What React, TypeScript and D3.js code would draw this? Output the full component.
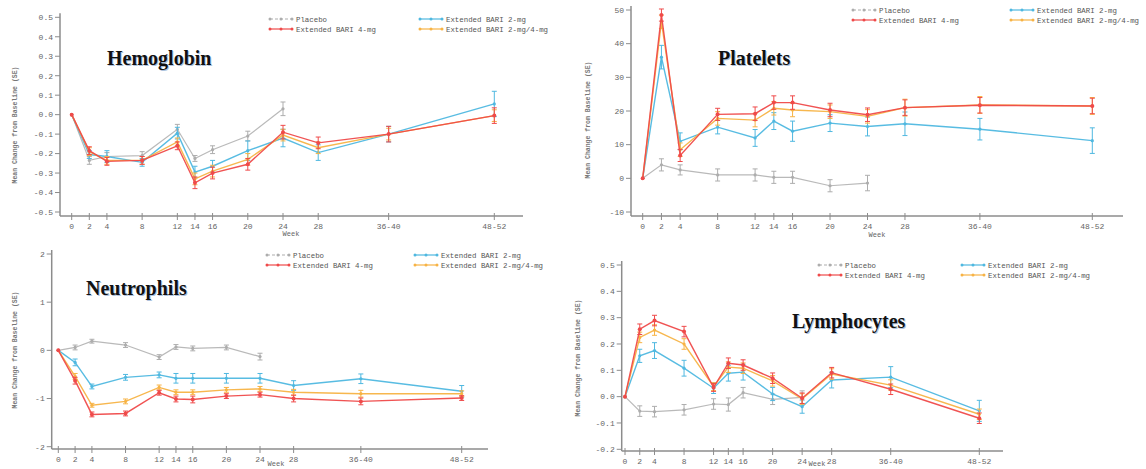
import React from "react";
import * as d3 from "d3";

const weeks = [0, 2, 4, 8, 12, 14, 16, 20, 24, 28, 36, 48];
const weekLabels = ["0", "2", "4", "8", "12", "14", "16", "20", "24", "28", "36-40", "48-52"];
const legendNames = ["Placebo", "Extended BARI 4-mg", "Extended BARI 2-mg", "Extended BARI 2-mg/4-mg"];

// Hemoglobin
const hgbPlacebo = [0, -0.235, -0.215, -0.21, -0.075, -0.225, -0.18, -0.11, 0.03];
const hgbPlaceboSE = [0, 0.02, 0.02, 0.02, 0.025, 0.015, 0.02, 0.025, 0.035];
const hgb2mg = [0, -0.205, -0.215, -0.245, -0.095, -0.295, -0.265, -0.185, -0.12, -0.195, -0.1, 0.055];
const hgb2mgSE = [0, 0.02, 0.03, 0.02, 0.03, 0.03, 0.03, 0.05, 0.045, 0.04, 0.04, 0.065];
const hgb4mg = [0, -0.185, -0.24, -0.235, -0.16, -0.35, -0.3, -0.255, -0.09, -0.145, -0.1, -0.005];
const hgb4mgSE = [0, 0.02, 0.02, 0.02, 0.02, 0.03, 0.03, 0.03, 0.035, 0.03, 0.04, 0.04];
const hgb24 = [0, -0.19, -0.235, -0.235, -0.14, -0.33, -0.29, -0.23, -0.105, -0.17, -0.1, -0.005];
const hgb24SE = [0, 0.02, 0.02, 0.02, 0.02, 0.03, 0.03, 0.03, 0.03, 0.03, 0.03, 0.03];
const hgbTicks = [0.5, 0.4, 0.3, 0.2, 0.1, 0.0, -0.1, -0.2, -0.3, -0.4, -0.5];

// Platelets
const pltPlacebo = [0, 4, 2.5, 1, 1, 0.3, 0.3, -2.2, -1.4];
const pltPlaceboSE = [0, 1.8, 1.5, 1.8, 1.8, 1.8, 1.8, 1.8, 2.3];
const plt2mg = [0, 36, 11, 15.2, 12, 17, 14, 16.4, 15.4, 16.2, 14.6, 11.2];
const plt2mgSE = [0, 3.5, 2.5, 2, 2.5, 2.5, 3, 2.5, 2.8, 3.5, 3.2, 3.8];
const plt4mg = [0, 48.5, 6.8, 19, 19.2, 22.5, 22.5, 20.3, 18.9, 21, 21.7, 21.5];
const plt4mgSE = [0, 1.8, 1.8, 1.8, 2, 2, 2, 2, 2, 2.3, 2.3, 2.3];
const plt24 = [0, 46.5, 8.5, 17.8, 17.3, 20.8, 20.3, 19.8, 18.4, 21, 21.8, 21.5];
const plt24SE = [0, 2, 2, 2, 2, 2, 2, 2, 2, 2.5, 2.5, 2.5];
const pltTicks = [50, 40, 30, 20, 10, 0, -10];

// Neutrophils
const neuPlacebo = [0, 0.06, 0.19, 0.11, -0.14, 0.07, 0.04, 0.06, -0.13];
const neuPlaceboSE = [0, 0.05, 0.04, 0.05, 0.05, 0.05, 0.05, 0.05, 0.07];
const neu2mg = [0, -0.25, -0.75, -0.56, -0.51, -0.58, -0.58, -0.58, -0.58, -0.73, -0.59, -0.85];
const neu2mgSE = [0, 0.07, 0.05, 0.06, 0.06, 0.1, 0.1, 0.1, 0.1, 0.1, 0.1, 0.12];
const neu4mg = [0, -0.63, -1.33, -1.31, -0.88, -1.01, -1.02, -0.95, -0.92, -1.0, -1.06, -0.99];
const neu4mgSE = [0, 0.07, 0.05, 0.05, 0.05, 0.06, 0.07, 0.05, 0.05, 0.07, 0.07, 0.05];
const neu24 = [0, -0.54, -1.14, -1.06, -0.77, -0.87, -0.87, -0.82, -0.8, -0.87, -0.9, -0.9];
const neu24SE = [0, 0.06, 0.04, 0.05, 0.05, 0.05, 0.05, 0.05, 0.05, 0.06, 0.07, 0.06];
const neuTicks = [2, 1, 0, -1, -2];

// Lymphocytes
const lymPlacebo = [0, -0.055, -0.057, -0.05, -0.028, -0.03, 0.015, -0.01, -0.003];
const lymPlaceboSE = [0, 0.02, 0.02, 0.02, 0.02, 0.025, 0.02, 0.02, 0.025];
const lym2mg = [0, 0.155, 0.175, 0.108, 0.032, 0.089, 0.093, 0.01, -0.038, 0.063, 0.074, -0.054];
const lym2mgSE = [0, 0.025, 0.03, 0.03, 0.02, 0.03, 0.03, 0.025, 0.025, 0.03, 0.04, 0.04];
const lym4mg = [0, 0.256, 0.289, 0.247, 0.035, 0.127, 0.12, 0.07, -0.006, 0.091, 0.028, -0.082];
const lym4mgSE = [0, 0.02, 0.02, 0.02, 0.015, 0.02, 0.02, 0.02, 0.02, 0.02, 0.02, 0.02];
const lym24 = [0, 0.225, 0.253, 0.2, 0.038, 0.112, 0.108, 0.06, -0.009, 0.086, 0.044, -0.067];
const lym24SE = [0, 0.02, 0.02, 0.02, 0.015, 0.02, 0.02, 0.02, 0.02, 0.02, 0.02, 0.02];
const lymTicks = [0.5, 0.4, 0.3, 0.2, 0.1, 0.0, -0.1, -0.2];

const COLORS = { placebo: "#adadad", b4: "#ef4a4a", b2: "#4fb8e0", b24: "#f7b345" };
const MONO = "'Liberation Mono', 'DejaVu Sans Mono', monospace";

type Series = { vals: number[]; se: number[]; color: string; width: number };

type Panel = {
  title: string;
  titleX: number;
  titleY: number;
  yAxisX: number;
  xAxisEnd: number;
  xAxisY: number;
  w0: number;
  w48: number;
  yDom: [number, number];
  yRange: [number, number];
  ticks: number[];
  fmt: (v: number) => string;
  yLabelX: number;
  yLabelY: number;
  weekX: number;
  weekY: number;
  legX: number;
  legX2: number;
  legY: number;
  series: Series[];
};

const mk = (p: number[], pse: number[], b2: number[], b2se: number[], b24: number[], b24se: number[], b4: number[], b4se: number[]): Series[] => [
  { vals: p, se: pse, color: COLORS.placebo, width: 1.2 },
  { vals: b2, se: b2se, color: COLORS.b2, width: 1.4 },
  { vals: b24, se: b24se, color: COLORS.b24, width: 1.4 },
  { vals: b4, se: b4se, color: COLORS.b4, width: 1.4 },
];

const panels: Panel[] = [
  {
    title: "Hemoglobin", titleX: 107, titleY: 65,
    yAxisX: 60, xAxisEnd: 523, xAxisY: 216, w0: 71.7, w48: 494.3,
    yDom: [0.5, -0.5], yRange: [17.3, 212], ticks: hgbTicks, fmt: (v) => v.toFixed(1),
    yLabelX: 15, yLabelY: 125, weekX: 291, weekY: 236, legX: 270, legX2: 420, legY: 19,
    series: mk(hgbPlacebo, hgbPlaceboSE, hgb2mg, hgb2mgSE, hgb24, hgb24SE, hgb4mg, hgb4mgSE),
  },
  {
    title: "Platelets", titleX: 718, titleY: 65,
    yAxisX: 631, xAxisEnd: 1123, xAxisY: 216, w0: 642.7, w48: 1092.3,
    yDom: [50, -10], yRange: [10, 212], ticks: pltTicks, fmt: (v) => String(v),
    yLabelX: 588, yLabelY: 120, weekX: 877, weekY: 237, legX: 853, legX2: 1011, legY: 10,
    series: mk(pltPlacebo, pltPlaceboSE, plt2mg, plt2mgSE, plt24, plt24SE, plt4mg, plt4mgSE),
  },
  {
    title: "Neutrophils", titleX: 86, titleY: 295,
    yAxisX: 51.7, xAxisEnd: 488, xAxisY: 449, w0: 58.3, w48: 461.7,
    yDom: [2, -2], yRange: [254, 446.7], ticks: neuTicks, fmt: (v) => String(v),
    yLabelX: 15, yLabelY: 350, weekX: 276, weekY: 466, legX: 267, legX2: 415, legY: 255,
    series: mk(neuPlacebo, neuPlaceboSE, neu2mg, neu2mgSE, neu24, neu24SE, neu4mg, neu4mgSE),
  },
  {
    title: "Lymphocytes", titleX: 792, titleY: 328,
    yAxisX: 621.7, xAxisEnd: 1003, xAxisY: 451, w0: 625, w48: 979.3,
    yDom: [0.5, -0.2], yRange: [265, 449.3], ticks: lymTicks, fmt: (v) => v.toFixed(1),
    yLabelX: 578, yLabelY: 358, weekX: 817, weekY: 466, legX: 819, legX2: 962, legY: 265,
    series: mk(lymPlacebo, lymPlaceboSE, lym2mg, lym2mgSE, lym24, lym24SE, lym4mg, lym4mgSE),
  },
];

const legendColors = [COLORS.placebo, COLORS.b4, COLORS.b2, COLORS.b24];

function PanelView({ p }: { p: Panel }) {
  const x = d3.scaleLinear().domain([0, 48]).range([p.w0, p.w48]);
  const y = d3.scaleLinear().domain(p.yDom).range(p.yRange);
  const line = d3
    .line<number>()
    .x((_, i) => x(weeks[i]))
    .y((d) => y(d));
  const axisColor = "#8c8c8c";
  const topY = y(p.yDom[0]) - 4;
  const legItems = [
    { name: legendNames[0], color: legendColors[0], lx: p.legX, ly: p.legY },
    { name: legendNames[1], color: legendColors[1], lx: p.legX, ly: p.legY + 10 },
    { name: legendNames[2], color: legendColors[2], lx: p.legX2, ly: p.legY },
    { name: legendNames[3], color: legendColors[3], lx: p.legX2, ly: p.legY + 10 },
  ];
  return (
    <g>
      {/* axes */}
      <line x1={p.yAxisX} x2={p.yAxisX} y1={topY} y2={p.xAxisY} stroke={axisColor} strokeWidth={1.5} />
      <line x1={p.yAxisX} x2={p.xAxisEnd} y1={p.xAxisY} y2={p.xAxisY} stroke={axisColor} strokeWidth={1.5} />
      {p.ticks.map((t) => (
        <g key={"yt" + t}>
          <line x1={p.yAxisX - 5} x2={p.yAxisX} y1={y(t)} y2={y(t)} stroke={axisColor} strokeWidth={1} />
          <text x={p.yAxisX - 7} y={y(t)} dy="0.35em" textAnchor="end" fontFamily={MONO} fontSize={8} fill="#666">
            {p.fmt(t)}
          </text>
        </g>
      ))}
      {weeks.map((w, i) => (
        <g key={"xt" + w}>
          <line x1={x(w)} x2={x(w)} y1={p.xAxisY - 3} y2={p.xAxisY + 4} stroke={axisColor} strokeWidth={1} />
          <text x={x(w)} y={p.xAxisY + 13} textAnchor="middle" fontFamily={MONO} fontSize={8} fill="#666">
            {weekLabels[i]}
          </text>
        </g>
      ))}
      <text x={p.weekX} y={p.weekY} textAnchor="middle" fontFamily={MONO} fontSize={7} fill="#666">
        Week
      </text>
      <text
        transform={`translate(${p.yLabelX},${p.yLabelY}) rotate(-90)`}
        textAnchor="middle"
        dy="0.35em"
        fontFamily={MONO}
        fontSize={6.5}
        fontWeight="bold"
        fill="#777"
      >
        Mean Change from Baseline (SE)
      </text>
      {/* series */}
      {p.series.map((s, si) => (
        <g key={"s" + si}>
          <path d={line(s.vals) || ""} fill="none" stroke={s.color} strokeWidth={s.width} opacity={si === 0 ? 0.85 : 0.95} />
          {s.vals.map((v, i) =>
            s.se[i] > 0 ? (
              <g key={"e" + i} stroke={s.color} strokeWidth={1}>
                <line x1={x(weeks[i])} x2={x(weeks[i])} y1={y(v + s.se[i])} y2={y(v - s.se[i])} />
                <line x1={x(weeks[i]) - 2.5} x2={x(weeks[i]) + 2.5} y1={y(v + s.se[i])} y2={y(v + s.se[i])} />
                <line x1={x(weeks[i]) - 2.5} x2={x(weeks[i]) + 2.5} y1={y(v - s.se[i])} y2={y(v - s.se[i])} />
              </g>
            ) : null
          )}
          {s.vals.map((v, i) => (
            <circle key={"m" + i} cx={x(weeks[i])} cy={y(v)} r={si === 3 ? 2 : 1.6} fill={s.color} />
          ))}
        </g>
      ))}
      {/* legend */}
      {legItems.map((l) => (
        <g key={l.name}>
          <line x1={l.lx} x2={l.lx + 22} y1={l.ly} y2={l.ly} stroke={l.color} strokeWidth={1.2} strokeDasharray={l.color === COLORS.placebo ? "3,2" : undefined} />
          {[0, 11, 22].map((o) => (
            <circle key={o} cx={l.lx + o} cy={l.ly} r={1.5} fill={l.color} />
          ))}
          <text x={l.lx + 26} y={l.ly} dy="0.35em" fontFamily={MONO} fontSize={7.4} fill="#555">
            {l.name}
          </text>
        </g>
      ))}
      {/* title */}
      <text x={p.titleX + 1} y={p.titleY + 1} fontFamily="'Liberation Serif', 'DejaVu Serif', serif" fontWeight="bold" fontSize={20} fill="#7a9cc8" opacity={0.6}>
        {p.title}
      </text>
      <text x={p.titleX} y={p.titleY} fontFamily="'Liberation Serif', 'DejaVu Serif', serif" fontWeight="bold" fontSize={20} fill="#111">
        {p.title}
      </text>
    </g>
  );
}

export default function App() {
  return (
    <svg
      width={1146}
      height={469}
      viewBox="0 0 1146 469"
      style={{ position: "absolute", left: 0, top: 0, background: "#fff" }}
    >
      <rect x={0} y={0} width={1146} height={469} fill="#fff" />
      {panels.map((p) => (
        <PanelView key={p.title} p={p} />
      ))}
    </svg>
  );
}
